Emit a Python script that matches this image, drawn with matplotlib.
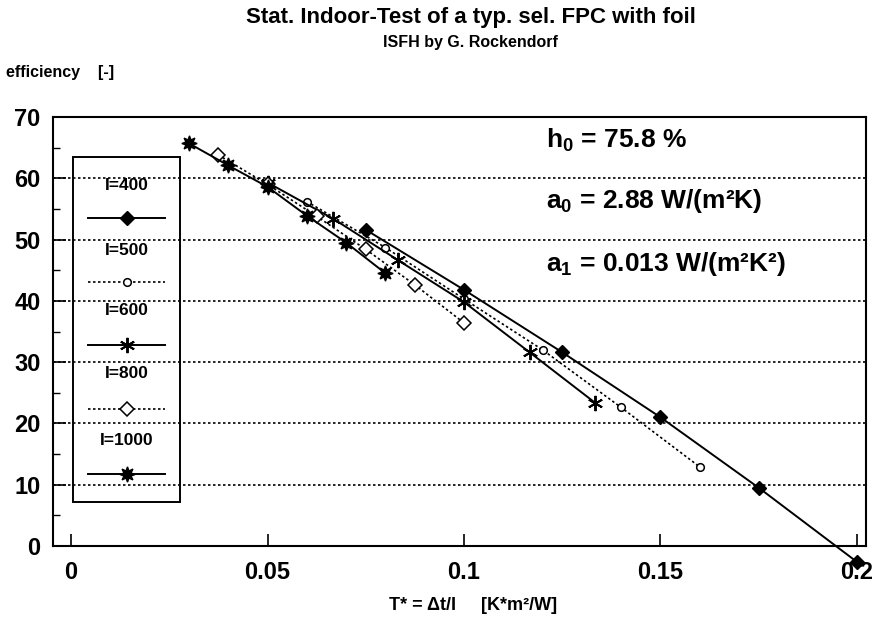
import matplotlib
matplotlib.use("Agg")
import matplotlib.pyplot as plt
from matplotlib.lines import Line2D
from matplotlib.patches import Rectangle

plt.rcParams['font.family'] = ['Liberation Sans', 'DejaVu Sans']
plt.rcParams['mathtext.fontset'] = 'custom'
plt.rcParams['mathtext.rm'] = 'Liberation Sans'

# T* = dt/I values, efficiency in %
x_400 = [0.075, 0.1, 0.125, 0.15, 0.175, 0.2]
y_400 = [51.6, 41.8, 31.6, 21.0, 9.5, -2.6]
x_500 = [0.06, 0.08, 0.10, 0.12, 0.14, 0.16]
y_500 = [56.2, 48.7, 40.3, 32.0, 22.6, 12.9]
x_600 = [0.05, 0.0667, 0.0833, 0.1, 0.1167, 0.1333]
y_600 = [59.3, 53.4, 46.6, 39.8, 31.6, 23.4]
x_800 = [0.0375, 0.05, 0.0625, 0.075, 0.0875, 0.1]
y_800 = [63.8, 59.0, 53.8, 48.4, 42.6, 36.4]
x_1000 = [0.03, 0.04, 0.05, 0.06, 0.07, 0.08]
y_1000 = [65.7, 62.1, 58.6, 53.9, 49.5, 44.5]

labels = ['I=400', 'I=500', 'I=600', 'I=800', 'I=1000']
xticks = [0, 0.05, 0.1, 0.15, 0.2]
xticklabels = ['0', '0.05', '0.1', '0.15', '0.2']
yticks = [0, 10, 20, 30, 40, 50, 60, 70]

styles = [
    dict(ls='-', marker='D', ms=7, mfc='black', mec='black', lw=1.4),
    dict(ls=(0, (1.5, 1.5)), marker='o', ms=5.5, mfc='white', mec='black', mew=1.1, lw=1.2),
    dict(ls='-', marker=(6, 2, 0), ms=11, mec='black', mew=1.4, lw=1.4),
    dict(ls=(0, (1.5, 1.5)), marker='D', ms=7, mfc='white', mec='black', mew=1.1, lw=1.2),
    dict(ls='-', marker=(8, 1, 0), ms=11, mfc='black', mec='black', lw=1.4),
]

fig = plt.figure(figsize=(8.72, 6.17), dpi=100)
ax = fig.add_axes([53/872, 1-546/617, 813/872, 429/617])

series = [(x_400, y_400), (x_500, y_500), (x_600, y_600), (x_800, y_800), (x_1000, y_1000)]
for (xs, ys), st in zip(series, styles):
    ax.plot(xs, ys, color='black', clip_on=False, zorder=3, **st)

ax.set_xlim(-0.0046, 0.2023)
ax.set_ylim(0, 70)
ax.set_xticks(xticks)
ax.set_xticklabels(xticklabels)
ax.set_yticks(yticks)
ax.set_yticks([5, 15, 25, 35, 45, 55, 65], minor=True)
ax.tick_params(axis='both', which='major', direction='in', length=9, width=1.2,
               labelsize=17, pad=9)
ax.tick_params(axis='x', which='major', pad=10.5)
ax.tick_params(axis='y', which='minor', direction='in', length=5, width=1)
for lab in ax.get_xticklabels() + ax.get_yticklabels():
    lab.set_fontweight('bold')
for sp in ax.spines.values():
    sp.set_linewidth(1.5)
for v in range(10, 70, 10):
    ax.axhline(v, color='black', ls=(0, (1.5, 1.5)), lw=1.2, zorder=1)

# legend box: label above each sample line
ax.add_patch(Rectangle((0.0246, 0.103), 0.131, 0.804, transform=ax.transAxes,
                       fill=False, ec='black', lw=1.4, zorder=4))
lab_y = [0.841, 0.688, 0.548, 0.401, 0.247]
hnd_y = [0.765, 0.615, 0.469, 0.319, 0.168]
for lab, ly, hy, st in zip(labels, lab_y, hnd_y, styles):
    ax.text(0.091, ly, lab, transform=ax.transAxes, ha='center', va='center',
            fontsize=12.5, fontweight='bold', zorder=5)
    ax.add_line(Line2D([0.043, 0.138], [hy, hy], transform=ax.transAxes, color='black',
                       ls=st['ls'], lw=st['lw'], zorder=5))
    ax.add_line(Line2D([0.091], [hy], transform=ax.transAxes, color='black', ls='none',
                       marker=st['marker'], ms=st['ms'], mfc=st.get('mfc', 'black'),
                       mec='black', mew=st.get('mew', 1.0), zorder=6))

# fit parameters
ax.text(0.606, 0.946, r'h$_\mathregular{0}$ = 75.8 %', transform=ax.transAxes,
        fontsize=19, fontweight='bold', va='center')
ax.text(0.606, 0.804, r'a$_\mathregular{0}$ = 2.88 W/(m²K)', transform=ax.transAxes,
        fontsize=19, fontweight='bold', va='center')
ax.text(0.606, 0.657, r'a$_\mathregular{1}$ = 0.013 W/(m²K²)', transform=ax.transAxes,
        fontsize=19, fontweight='bold', va='center')

fig.text(0.54, 1-17/617, 'Stat. Indoor-Test of a typ. sel. FPC with foil',
         ha='center', va='center', fontsize=16, fontweight='bold')
fig.text(0.54, 1-43/617, 'ISFH by G. Rockendorf', ha='center', va='center',
         fontsize=11.5, fontweight='bold')
fig.text(6/872, 1-72/617, 'efficiency    [-]', ha='left', va='center', fontsize=11.5,
         fontweight='bold')
fig.text(0.543, 1-606/617, 'T* = Δt/I     [K*m²/W]', ha='center', va='center',
         fontsize=13, fontweight='bold')

fig.savefig('out.png', dpi=100)
